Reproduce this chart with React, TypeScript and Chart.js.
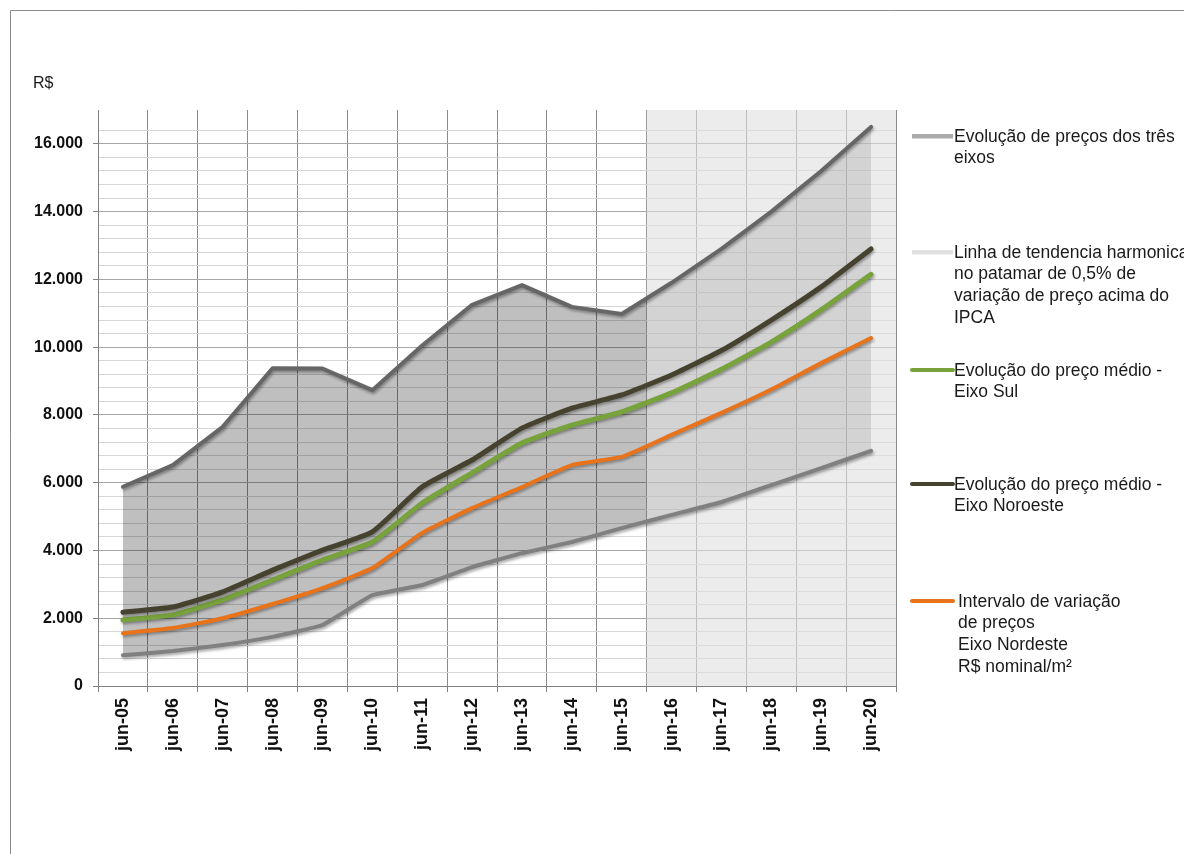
import React, { useEffect, useRef } from 'react';
import { Chart, registerables } from 'chart.js';

Chart.register(...registerables);

// ---- data ----
const categories = [
  'jun-05', 'jun-06', 'jun-07', 'jun-08', 'jun-09', 'jun-10', 'jun-11', 'jun-12',
  'jun-13', 'jun-14', 'jun-15', 'jun-16', 'jun-17', 'jun-18', 'jun-19', 'jun-20',
];
const upperBound = [5880, 6520, 7650, 9380, 9370, 8730, 10050, 11250, 11830, 11190, 10980, 11900, 12900, 14000, 15200, 16500];
const lowerBound = [910, 1030, 1210, 1450, 1800, 2680, 2980, 3510, 3920, 4250, 4660, 5050, 5430, 5930, 6430, 6940];
const eixoNoroeste = [2180, 2330, 2780, 3420, 4010, 4550, 5880, 6670, 7610, 8200, 8590, 9180, 9900, 10800, 11780, 12900];
const eixoSul = [1950, 2100, 2540, 3130, 3720, 4250, 5400, 6290, 7170, 7700, 8090, 8650, 9350, 10150, 11100, 12150];
const eixoNordeste = [1560, 1710, 2000, 2420, 2890, 3480, 4520, 5250, 5870, 6520, 6760, 7410, 8060, 8750, 9530, 10270];
const yMax = 17000;
const yMinorStep = 400;
const yLabelStep = 2000;
const yLabelMax = 16000;
const projectionStart = 'jun-16';
const yUnit = 'R$';

const legendItems = [
  { kind: 'rect', color: '#ababab', lines: ['Evolução de preços dos três', 'eixos'] },
  { kind: 'rect', color: '#e0e0e0', lines: ['Linha de tendencia harmonica', 'no patamar de 0,5% de', 'variação de preço acima do', 'IPCA'] },
  { kind: 'line', color: '#78a23c', lines: ['Evolução do preço médio -', 'Eixo Sul'] },
  { kind: 'line', color: '#45432f', lines: ['Evolução do preço médio -', 'Eixo Noroeste'] },
  { kind: 'line', color: '#e8731a', lines: ['Intervalo de variação', 'de preços', 'Eixo Nordeste', 'R$ nominal/m²'] },
];
const legendTop = [136, 252, 370, 484, 601];
const legendTextX = [954, 954, 954, 954, 958];

const FONT = "'Liberation Sans', Arial, sans-serif";

const fmt = (v: number) => String(v).replace(/\B(?=(\d{3})+(?!\d))/g, '.');

const decorPlugin = {
  id: 'decor',
  beforeDatasetsDraw(chart: any) {
    // translucent projection band drawn over the area fill, under the lines
    const { ctx, chartArea, scales } = chart;
    const xs = scales.x;
    const idx = categories.indexOf(projectionStart);
    const left = (xs.getPixelForValue(idx - 1) + xs.getPixelForValue(idx)) / 2;
    ctx.save();
    ctx.fillStyle = 'rgba(224,224,224,0.6)';
    ctx.fillRect(left, chartArea.top, chartArea.right - left, chartArea.bottom - chartArea.top);
    ctx.restore();
  },
  beforeDatasetDraw(chart: any) {
    const ctx = chart.ctx;
    ctx.save();
    ctx.shadowColor = 'rgba(0,0,0,0.35)';
    ctx.shadowBlur = 3;
    ctx.shadowOffsetX = 1;
    ctx.shadowOffsetY = 2;
  },
  afterDatasetDraw(chart: any) {
    chart.ctx.restore();
  },
  afterDraw(chart: any) {
    const ctx = chart.ctx;
    ctx.save();
    // chart border
    ctx.strokeStyle = '#8c8c8c';
    ctx.lineWidth = 1;
    ctx.beginPath();
    ctx.moveTo(10.5, 854);
    ctx.lineTo(10.5, 10.5);
    ctx.lineTo(1184, 10.5);
    ctx.stroke();
    // unit
    ctx.fillStyle = '#1a1a1a';
    ctx.font = `16px ${FONT}`;
    ctx.textBaseline = 'middle';
    ctx.textAlign = 'left';
    ctx.fillText(yUnit, 33, 84);
    // legend
    legendItems.forEach((item, i) => {
      const cy = legendTop[i];
      if (item.kind === 'rect') {
        ctx.fillStyle = item.color;
        ctx.fillRect(912, cy - 2, 41, 4.5);
      } else {
        ctx.strokeStyle = item.color;
        ctx.lineWidth = 4;
        ctx.lineCap = 'round';
        ctx.beginPath();
        ctx.moveTo(912, cy);
        ctx.lineTo(953, cy);
        ctx.stroke();
      }
      ctx.fillStyle = '#1a1a1a';
      ctx.font = `17.5px ${FONT}`;
      item.lines.forEach((t, j) => {
        ctx.fillText(t, legendTextX[i], cy + 1 + j * 21.6);
      });
    });
    ctx.restore();
  },
};

export default function App() {
  const ref = useRef<HTMLCanvasElement | null>(null);
  useEffect(() => {
    if (!ref.current) return;
    const chart = new Chart(ref.current, {
      type: 'line',
      data: {
        labels: categories,
        datasets: [
          {
            label: 'Evolução de preços dos três eixos',
            data: upperBound,
            borderColor: '#666666',
            borderWidth: 4,
            backgroundColor: 'rgba(0,0,0,0.25)',
            fill: '+1',
            tension: 0,
            pointRadius: 0,
            borderJoinStyle: 'round',
            borderCapStyle: 'round',
          },
          {
            label: 'Evolução de preços dos três eixos (mínimo)',
            data: lowerBound,
            borderColor: '#808080',
            borderWidth: 4,
            fill: false,
            tension: 0.1,
            pointRadius: 0,
            borderJoinStyle: 'round',
            borderCapStyle: 'round',
          },
          {
            label: 'Evolução do preço médio - Eixo Noroeste',
            data: eixoNoroeste,
            borderColor: '#45432f',
            borderWidth: 5,
            fill: false,
            tension: 0.15,
            pointRadius: 0,
            borderJoinStyle: 'round',
            borderCapStyle: 'round',
          },
          {
            label: 'Evolução do preço médio - Eixo Sul',
            data: eixoSul,
            borderColor: '#78a23c',
            borderWidth: 5,
            fill: false,
            tension: 0.15,
            pointRadius: 0,
            borderJoinStyle: 'round',
            borderCapStyle: 'round',
          },
          {
            label: 'Intervalo de variação de preços Eixo Nordeste R$ nominal/m²',
            data: eixoNordeste,
            borderColor: '#e8731a',
            borderWidth: 4,
            fill: false,
            tension: 0.15,
            pointRadius: 0,
            borderJoinStyle: 'round',
            borderCapStyle: 'round',
          },
        ],
      },
      options: {
        responsive: false,
        animation: false,
        devicePixelRatio: 1,
        layout: { padding: { left: 10, top: 110, right: 288, bottom: 0 } },
        plugins: {
          legend: { display: false },
          tooltip: { enabled: false },
          filler: { drawTime: 'beforeDatasetsDraw' },
        },
        scales: {
          x: {
            offset: true,
            grid: {
              offset: true,
              color: '#8a8a8a',
              tickLength: 6,
              tickColor: '#808080',
            },
            border: { color: '#808080' },
            ticks: {
              autoSkip: false,
              minRotation: 90,
              maxRotation: 90,
              padding: 6,
              color: '#111',
              font: { family: FONT, size: 18, weight: 'bold' },
            },
            afterFit(scale: any) {
              scale.height = 168;
            },
          },
          y: {
            min: 0,
            max: yMax,
            grid: {
              color: (c: any) => {
                const v = c.tick ? c.tick.value : 0;
                if (v > yLabelMax + yLabelStep / 4 && v >= yMax) return 'rgba(0,0,0,0)';
                return v % yLabelStep === 0 ? '#a6a6a6' : '#d6d6d6';
              },
              tickLength: 5,
              tickColor: (c: any) => {
                const v = c.tick ? c.tick.value : 0;
                return v % yLabelStep === 0 && v <= yLabelMax ? '#808080' : 'rgba(0,0,0,0)';
              },
            },
            border: { color: '#808080' },
            ticks: {
              stepSize: yMinorStep,
              autoSkip: false,
              padding: 10,
              color: '#111',
              font: { family: FONT, size: 16, weight: 'bold' },
              callback: (v: any) => (Number(v) % yLabelStep === 0 && Number(v) <= yLabelMax ? fmt(Number(v)) : ''),
            },
            afterFit(scale: any) {
              scale.width = 88;
            },
          },
        },
      },
      plugins: [decorPlugin],
    } as any);
    return () => chart.destroy();
  }, []);

  return (
    <div style={{ position: 'absolute', left: 0, top: 0, width: 1184, height: 854, overflow: 'hidden', background: '#ffffff' }}>
      <canvas ref={ref} width={1184} height={854} style={{ display: 'block' }} />
    </div>
  );
}
